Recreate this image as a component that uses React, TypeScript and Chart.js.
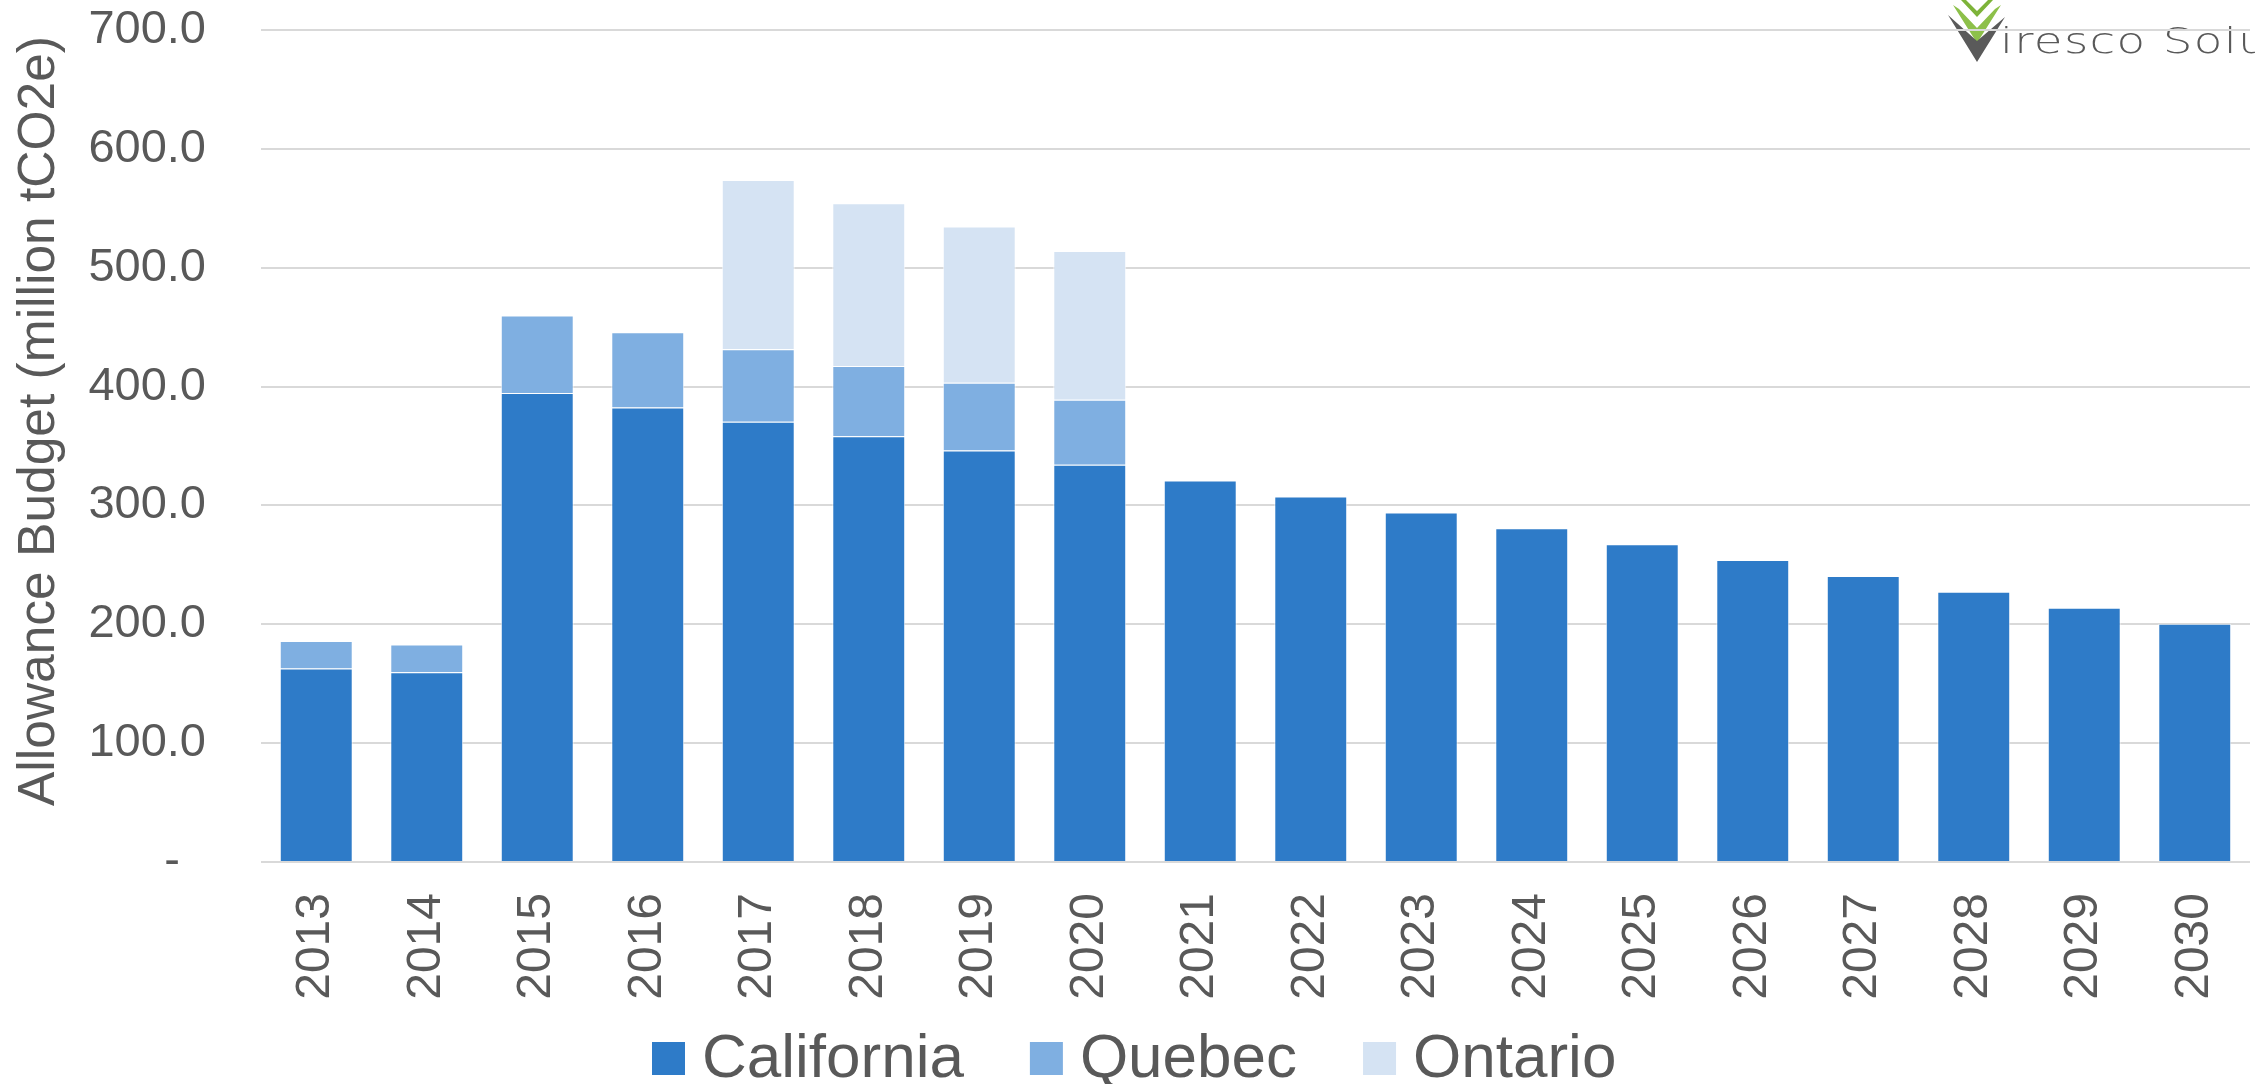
import React, { useEffect, useRef } from 'react';
import { Chart, registerables } from 'chart.js';

Chart.register(...registerables);

const years = ['2013', '2014', '2015', '2016', '2017', '2018', '2019', '2020', '2021', '2022', '2023', '2024', '2025', '2026', '2027', '2028', '2029', '2030'];
const california = [162.8, 159.7, 394.5, 382.4, 370.4, 358.3, 346.3, 334.2, 320.9, 307.5, 294.1, 280.7, 267.4, 254.0, 240.6, 227.3, 213.9, 200.5];
const quebec = [23.2, 23.2, 65.3, 63.2, 61.1, 59.0, 56.9, 54.7, null, null, null, null, null, null, null, null, null, null];
const ontario = [null, null, null, null, 142.3, 136.9, 131.5, 125.1, null, null, null, null, null, null, null, null, null, null];
const seriesNames = ['California', 'Quebec', 'Ontario'];
const yTickValues = [0, 100, 200, 300, 400, 500, 600, 700];
const yTitle = 'Allowance Budget (million tCO2e)';
const logoText = 'iresco Solutions';

const COLORS = ['#2E7BC8', '#7FAFE1', '#D5E3F3'];
const TEXT = '#595959';
const FONT = '"Liberation Sans", Arial, sans-serif';

const zeroPad = (s: any) => {
  s.paddingTop = 0;
  s.paddingBottom = 0;
  s.paddingLeft = 0;
  s.paddingRight = 0;
};

const poly = (ctx: any, pts: number[][]) => {
  ctx.beginPath();
  pts.forEach((p, i) => (i === 0 ? ctx.moveTo(p[0], p[1]) : ctx.lineTo(p[0], p[1])));
  ctx.closePath();
  ctx.fill();
};

const decorPlugin = {
  id: 'decor',
  beforeDraw(chart: any) {
    const ctx = chart.ctx;
    ctx.save();
    // logo chevrons
    ctx.fillStyle = '#7DB339';
    poly(ctx, [[1961, 0], [1977, 17], [1993, 0], [1988, 0], [1977, 11], [1966, 0]]);
    ctx.fillStyle = '#8DC04A';
    poly(ctx, [[1953, 5], [1977, 43], [2001, 5], [1995, 9], [1977, 28], [1959, 9]]);
    ctx.fillStyle = '#5A5A5A';
    poly(ctx, [[1948, 15], [1977, 62], [2005, 17], [1977, 41]]);
    ctx.fillStyle = TEXT;
    ctx.font = '200 36px "DejaVu Sans", Lato, sans-serif';
    (ctx as any).letterSpacing = '1px';
    ctx.textBaseline = 'alphabetic';
    ctx.textAlign = 'left';
    ctx.translate(2000, 53);
    ctx.scale(1.3, 1);
    ctx.fillText(logoText, 0, 0);
    ctx.restore();
  },
  afterDraw(chart: any) {
    const ctx = chart.ctx;
    ctx.save();
    // y axis title
    ctx.fillStyle = TEXT;
    ctx.font = `51.5px ${FONT}`;
    ctx.textAlign = 'left';
    ctx.textBaseline = 'alphabetic';
    ctx.translate(54, 806);
    ctx.rotate(-Math.PI / 2);
    ctx.fillText(yTitle, 0, 0);
    ctx.restore();

    // legend
    ctx.save();
    ctx.font = `62px ${FONT}`;
    ctx.textBaseline = 'alphabetic';
    ctx.textAlign = 'left';
    const box = 33, gapText = 17, gapItem = 66;
    const ds = chart.data.datasets;
    let x = 652;
    ds.forEach((d: any) => {
      const w = ctx.measureText(d.label).width;
      ctx.fillStyle = d.backgroundColor;
      ctx.fillRect(x, 1042, box, box);
      ctx.fillStyle = TEXT;
      ctx.fillText(d.label, x + box + gapText, 1077);
      x += box + gapText + w + gapItem;
    });
    ctx.restore();
  },
};

export default function App() {
  const ref = useRef<HTMLCanvasElement | null>(null);
  useEffect(() => {
    document.body.style.margin = '0';
    const canvas = ref.current!;
    const chart = new Chart(canvas, {
      type: 'bar',
      data: {
        labels: years,
        datasets: [california, quebec, ontario].map((data, i) => ({
          label: seriesNames[i],
          data,
          backgroundColor: COLORS[i],
          borderColor: 'rgba(255,255,255,0.7)',
          borderWidth: 1,
          barPercentage: 1,
          categoryPercentage: 0.66,
        })),
      },
      options: {
        responsive: false,
        animation: false,
        devicePixelRatio: 1,
        layout: { padding: { top: 30, right: 5, left: 0, bottom: 0 } },
        plugins: { legend: { display: false }, tooltip: { enabled: false }, title: { display: false } },
        scales: {
          x: {
            stacked: true,
            grid: { display: false },
            border: { display: false },
            ticks: {
              autoSkip: false,
              maxRotation: 90,
              minRotation: 90,
              padding: 23,
              color: TEXT,
              font: { family: FONT, size: 48 },
            },
            afterFit: (s: any) => { s.height = 222; zeroPad(s); },
          },
          y: {
            stacked: true,
            min: 0,
            max: 700,
            afterBuildTicks: (s: any) => { s.ticks = yTickValues.map((v) => ({ value: v })); },
            grid: { color: '#D9D9D9', lineWidth: 2, drawTicks: false },
            border: { display: false },
            ticks: {
              padding: 55,
              color: TEXT,
              font: { family: FONT, size: 47 },
              callback: (v: any) => (Number(v) === 0 ? '-  ' : Number(v).toFixed(1)),
            },
            afterFit: (s: any) => { s.width = 261; zeroPad(s); },
          },
        },
      },
      plugins: [decorPlugin],
    } as any);
    return () => chart.destroy();
  }, []);
  return (
    <div style={{ position: 'absolute', left: 0, top: 0, width: 2255, height: 1084, background: '#fff' }}>
      <canvas ref={ref} width={2255} height={1084} />
    </div>
  );
}
